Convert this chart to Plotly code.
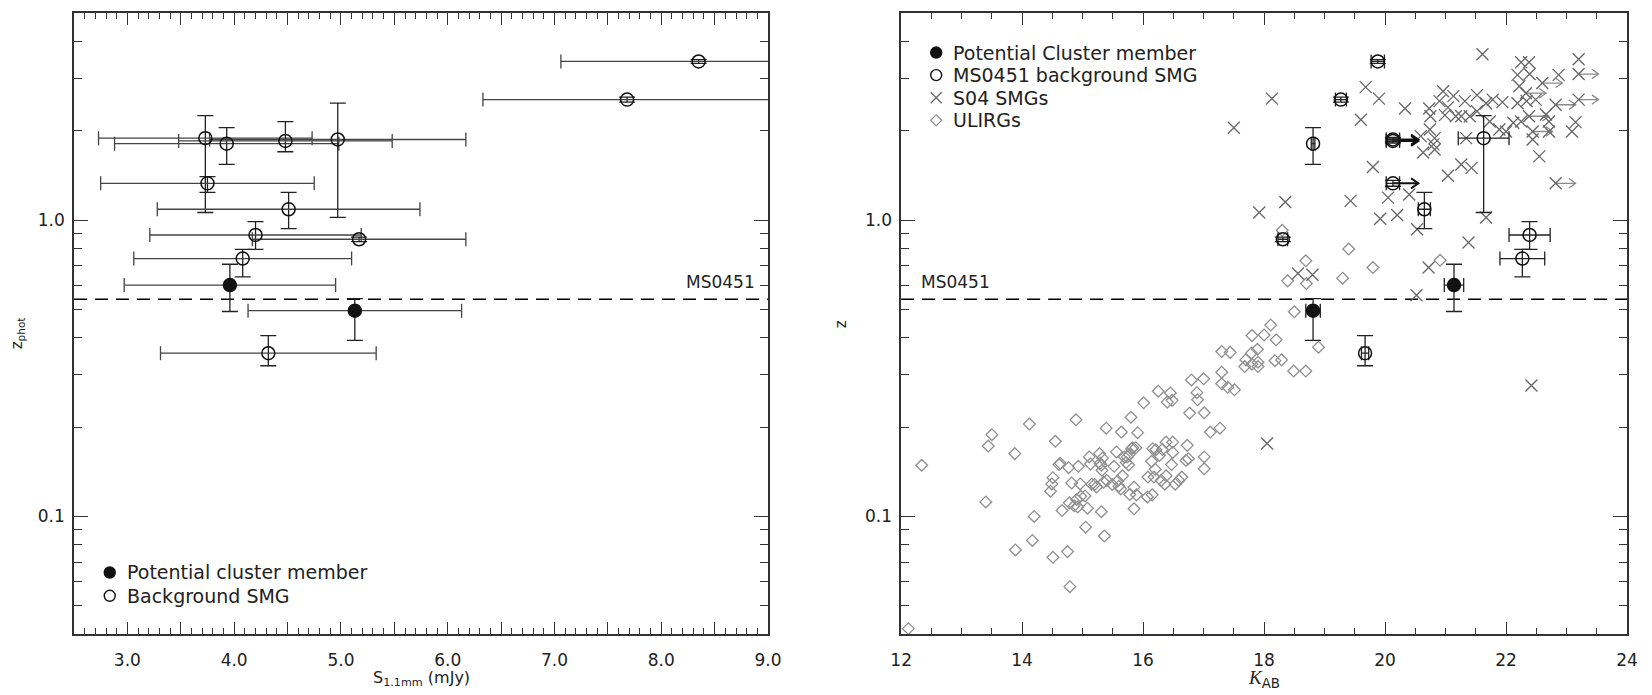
import numpy as np
import plotly.graph_objects as go

# ---------------- Left panel: MS0451 SMGs, S_1.1mm vs z_phot ----------------
S_mm      = [3.73, 3.93, 4.48, 4.97, 3.75, 4.51, 4.20, 5.17, 4.08, 3.96, 5.13, 4.32, 8.35, 7.68]
S_err     = [1.00, 1.05, 1.00, 1.20, 1.00, 1.23, 0.99, 1.00, 1.02, 0.99, 1.00, 1.01, 1.29, 1.35]
z_phot    = [1.89, 1.81, 1.85, 1.87, 1.33, 1.087, 0.89, 0.861, 0.741, 0.603, 0.494, 0.355, 3.43, 2.55]
z_up      = [2.25, 2.05, 2.15, 2.48, 1.40, 1.24, 0.987, 0.875, 0.796, 0.709, 0.543, 0.407, 3.48, 2.60]
z_lo      = [1.06, 1.54, 1.70, 1.02, 1.24, 0.935, 0.796, 0.845, 0.643, 0.491, 0.392, 0.322, 3.38, 2.50]
member    = [0, 0, 0, 0, 0, 0, 0, 0, 0, 1, 1, 0, 0, 0]

# ---------------- Right panel: same sources vs K_AB ----------------
K_ms      = [21.63, 18.81, 20.13, 20.13, 20.13, 20.65, 22.39, 18.31, 22.27, 21.14, 18.81, 19.67, 19.88, 19.27]
K_ms_err  = [0.42, 0.03, 0.11, 0.11, 0.11, 0.10, 0.34, 0.08, 0.37, 0.16, 0.12, 0.06, 0.11, 0.09]
K_ms_lim  = [0, 0, 1, 1, 1, 0, 0, 0, 0, 0, 0, 0, 0, 0]
z_ms_up   = [2.25, 2.05, 1.88, 1.90, 1.36, 1.24, 0.987, 0.875, 0.796, 0.709, 0.543, 0.407, 3.48, 2.60]
z_ms_lo   = [1.06, 1.54, 1.82, 1.84, 1.30, 0.935, 0.796, 0.845, 0.643, 0.491, 0.392, 0.322, 3.38, 2.50]

# S04 SMGs (K_AB, z, lower-limit flag on K)
smg_K = [17.50, 18.13, 18.35, 17.92, 18.56, 18.80, 19.68, 19.90, 19.60, 19.80, 19.43, 19.92, 20.05, 20.20,
         20.33, 20.40, 20.53, 20.52, 20.72, 21.38, 21.67, 22.82, 22.42, 18.05,
         21.61, 22.25, 22.38, 23.20, 22.19, 22.39, 22.87, 23.20, 22.22, 22.60, 22.33, 22.82, 23.20,
         20.96, 21.13, 20.90, 21.32, 21.52, 21.67, 21.78, 21.94, 22.19, 22.34, 22.49,
         20.73, 20.75, 20.99, 21.17, 21.26, 21.40, 21.52, 21.04, 21.73, 21.89, 22.00, 22.12, 22.25,
         22.38, 22.66, 22.71, 22.44, 22.44, 22.71, 23.09, 23.15, 22.55,
         20.74, 20.59, 20.82, 20.80, 20.63, 20.82, 21.34, 21.26, 21.43, 21.04]
smg_z = [2.05, 2.57, 1.15, 1.06, 0.66, 0.653, 2.81, 2.57, 2.18, 1.51, 1.16, 1.01, 1.19, 1.04,
         2.38, 1.22, 0.93, 0.557, 0.691, 0.839, 1.02, 1.33, 0.276, 0.176,
         3.63, 3.41, 3.41, 3.49, 3.09, 3.11, 3.09, 3.11, 2.83, 2.90, 2.68, 2.45, 2.55,
         2.72, 2.62, 2.52, 2.52, 2.64, 2.48, 2.55, 2.50, 2.48, 2.52, 2.55,
         2.38, 2.24, 2.26, 2.24, 2.24, 2.24, 2.33, 2.40, 2.15, 2.02, 1.99, 2.13, 2.15,
         2.24, 2.27, 2.15, 1.99, 1.87, 1.99, 1.99, 2.14, 1.64,
         2.02, 1.92, 1.89, 1.80, 1.69, 1.73, 1.89, 1.54, 1.50, 1.41]
smg_lim = [0, 0, 0, 0, 0, 0, 0, 0, 0, 0, 0, 0, 0, 0,
           0, 0, 0, 0, 0, 0, 0, 1, 0, 0,
           0, 0, 0, 0, 0, 0, 0, 1, 0, 1, 1, 1, 1,
           0, 0, 0, 0, 0, 0, 0, 0, 0, 0, 0,
           0, 0, 0, 0, 0, 0, 0, 0, 0, 0, 0, 0, 0,
           1, 0, 0, 1, 0, 0, 0, 0, 0,
           0, 0, 0, 0, 0, 0, 0, 0, 0, 0]

# ULIRGs (K_AB, z)
ulirg_K = [12.12, 12.34, 13.40, 13.44, 13.50, 13.88, 13.89, 14.12, 14.17, 14.20, 14.51, 14.47, 14.49, 14.51,
           14.55, 14.61, 14.63, 14.66, 14.75, 14.79, 14.78, 14.77, 14.82, 14.86, 14.89, 14.90, 14.92, 14.93,
           14.96, 14.97, 15.04, 15.05, 15.08, 15.11, 15.13, 15.15, 15.20, 15.23, 15.28, 15.29, 15.31, 15.31,
           15.32, 15.33, 15.35, 15.36, 15.39, 15.40, 15.49, 15.52, 15.56, 15.58, 15.60, 15.63, 15.64, 15.66,
           15.69, 15.72, 15.74, 15.76, 15.77, 15.78, 15.80, 15.81, 15.83, 15.85, 15.85, 15.88, 15.89, 15.91,
           16.01, 16.07, 16.08, 16.14, 16.15, 16.16, 16.18, 16.20, 16.21, 16.25, 16.27, 16.30, 16.32, 16.36,
           16.38, 16.38, 16.40, 16.45, 16.47, 16.48, 16.49, 16.49, 16.53, 16.59, 16.64, 16.71, 16.73, 16.75,
           16.77, 16.80, 16.89, 16.90, 17.00, 17.01, 17.01, 17.01, 17.11, 17.27, 17.30, 17.30, 17.30, 17.40,
           17.44,
           17.80, 18.00, 18.20, 17.89, 17.79, 17.70, 17.68, 17.80, 17.90, 17.90, 18.18, 18.29, 18.49, 18.69,
           17.51, 18.90,
           18.30, 18.69, 18.39, 18.70, 18.50, 18.11, 19.30, 19.40, 19.80, 20.91]
ulirg_z = [0.0417, 0.1485, 0.1117, 0.1725, 0.1884, 0.1626, 0.0769, 0.2046, 0.0828, 0.0998, 0.0726, 0.1214,
           0.1285, 0.1349, 0.179, 0.1493, 0.1508, 0.1045, 0.0759, 0.0578, 0.1109, 0.1458, 0.1294, 0.1084,
           0.2115, 0.1138, 0.1074, 0.1473, 0.1285, 0.1167, 0.117, 0.0918, 0.1064, 0.1585, 0.150, 0.1282,
           0.128, 0.1254, 0.1626, 0.1508, 0.1485, 0.1035, 0.1429, 0.157, 0.1303, 0.0857, 0.1982, 0.132,
           0.128, 0.1473, 0.1648, 0.1315, 0.1262, 0.1236, 0.1923, 0.1368, 0.1585, 0.1517, 0.1585, 0.149,
           0.1614, 0.1183, 0.2158, 0.169, 0.1702, 0.1059, 0.1253, 0.1702, 0.118, 0.1914, 0.2415, 0.1161,
           0.1355, 0.1531, 0.118, 0.169, 0.1355, 0.144, 0.1676, 0.2642, 0.1603, 0.132, 0.1679, 0.1282,
           0.1778, 0.1368, 0.2427, 0.2606, 0.1493, 0.246, 0.1778, 0.1641, 0.1282, 0.132, 0.1355, 0.1542,
           0.1734, 0.1563, 0.2228, 0.2884, 0.2612, 0.2472, 0.291, 0.1585, 0.1445, 0.2234, 0.1923, 0.1982,
           0.3597, 0.3062, 0.2799, 0.2723, 0.3573,
           0.407, 0.409, 0.394, 0.366, 0.355, 0.337, 0.320, 0.326, 0.331, 0.320, 0.335, 0.337, 0.309, 0.309,
           0.267, 0.372,
           0.923, 0.728, 0.623, 0.610, 0.490, 0.442, 0.636, 0.798, 0.691, 0.731]

z_cluster = 0.54
x1_range = [2.5, 9.0]
x2_range = [12, 24]
y_range = [0.04, 5.0]

FONT = "DejaVu Sans"
AX = "#333333"
BLK = "#111111"
DGRAY = "#666666"
LGRAY = "#8f8f8f"
TXT = "#222222"

fig = go.Figure()

# ----- left panel traces -----
S = np.array(S_mm); Se = np.array(S_err); z = np.array(z_phot)
zu = np.array(z_up); zl = np.array(z_lo); mem = np.array(member, bool)

fig.add_trace(go.Scatter(x=x1_range, y=[z_cluster, z_cluster], mode="lines",
                         line=dict(color="#000000", width=1.4, dash="13px,8px"),
                         xaxis="x", yaxis="y", showlegend=False, hoverinfo="skip"))

for sel, filled in [(~mem, False), (mem, True)]:
    fig.add_trace(go.Scatter(
        x=S[sel], y=z[sel], mode="markers", xaxis="x", yaxis="y", showlegend=False,
        marker=dict(symbol="circle" if filled else "circle-open", size=13,
                    color=BLK, line=dict(color=BLK, width=1.5)),
        error_x=dict(type="data", array=Se[sel], color="#444444", thickness=1.3, width=7),
        error_y=dict(type="data", symmetric=False, array=(zu - z)[sel], arrayminus=(z - zl)[sel],
                     color="#222222", thickness=1.3, width=8),
    ))

# ----- right panel traces -----
fig.add_trace(go.Scatter(x=x2_range, y=[z_cluster, z_cluster], mode="lines",
                         line=dict(color="#000000", width=1.4, dash="13px,8px"),
                         xaxis="x2", yaxis="y2", showlegend=False, hoverinfo="skip"))

fig.add_trace(go.Scatter(x=ulirg_K, y=ulirg_z, mode="markers", xaxis="x2", yaxis="y2", showlegend=False,
                         marker=dict(symbol="diamond-open", size=9, color=LGRAY, line=dict(width=1.3))))

sK = np.array(smg_K); sz = np.array(smg_z); sl = np.array(smg_lim, bool)

def arrows(K, zz, length, head_dx, head_dlog):
    xs, ys = [], []
    for k, v in zip(K, zz):
        tip = k + length
        xs += [k, tip, None, tip - head_dx, tip, tip - head_dx, None]
        ys += [v, v, None, v * 10 ** head_dlog, v, v * 10 ** (-head_dlog), None]
    return xs, ys

ax_, ay_ = arrows(sK[sl], sz[sl], 0.33, 0.11, 0.016)
fig.add_trace(go.Scatter(x=ax_, y=ay_, mode="lines", line=dict(color="#8a8a8a", width=1.3),
                         xaxis="x2", yaxis="y2", showlegend=False, hoverinfo="skip"))
fig.add_trace(go.Scatter(x=smg_K, y=smg_z, mode="markers", xaxis="x2", yaxis="y2", showlegend=False,
                         marker=dict(symbol="x-thin-open", size=12, color=DGRAY, line=dict(width=1.3, color=DGRAY))))

Km = np.array(K_ms); Kme = np.array(K_ms_err); Kl = np.array(K_ms_lim, bool)
zmu = np.array(z_ms_up); zml = np.array(z_ms_lo)
bx, by = arrows(Km[Kl], z[Kl], 0.42, 0.12, 0.017)
fig.add_trace(go.Scatter(x=bx, y=by, mode="lines", line=dict(color=BLK, width=2.0),
                         xaxis="x2", yaxis="y2", showlegend=False, hoverinfo="skip"))
for sel, filled in [(~mem, False), (mem, True)]:
    fig.add_trace(go.Scatter(
        x=Km[sel], y=z[sel], mode="markers", xaxis="x2", yaxis="y2", showlegend=False,
        marker=dict(symbol="circle" if filled else "circle-open", size=13,
                    color=BLK, line=dict(color=BLK, width=1.5)),
        error_x=dict(type="data", array=Kme[sel], color="#222222", thickness=1.3, width=7),
        error_y=dict(type="data", symmetric=False, array=(zmu - z)[sel], arrayminus=(z - zml)[sel],
                     color="#222222", thickness=1.3, width=8),
    ))

# ----- axes -----
def lin_ticks(lo, hi, step):
    n = int(round((hi - lo) / step))
    return [round(lo + i * step, 6) for i in range(n + 1)]

y_major = [0.1, 1.0]
y_minor = [0.04, 0.05, 0.06, 0.07, 0.08, 0.09, 0.2, 0.3, 0.4, 0.5, 0.6, 0.7, 0.8, 0.9, 2, 3, 4, 5]

x1_major = lin_ticks(3.0, 9.0, 1.0)
x1_half = lin_ticks(2.5, 8.5, 1.0)
x1_minor = lin_ticks(2.5, 9.0, 0.1)
x2_major = lin_ticks(12, 24, 2)
x2_minor = lin_ticks(12, 24, 0.5)

tickfont = dict(family=FONT, size=17, color=TXT)
common = dict(showline=True, linecolor=AX, linewidth=1.5, mirror="ticks", ticks="inside",
              tickcolor=AX, tickwidth=1.3, showgrid=False, zeroline=False, tickfont=tickfont)

fig.update_layout(
    width=1652, height=695,
    margin=dict(l=74, r=14, t=11, b=61),
    paper_bgcolor="white", plot_bgcolor="white",
    xaxis=dict(domain=[0, 0.4469], range=x1_range, tickmode="array", tickvals=x1_major,
               ticktext=[f"{v:.1f}" for v in x1_major],
               ticklen=12, ticklabelstandoff=10,
               minor=dict(tickmode="array", tickvals=x1_minor, ticklen=6, tickcolor=AX, ticks="inside"),
               anchor="y", **common),
    # overlay axis carrying the long half-unit ticks of the left panel
    xaxis3=dict(domain=[0, 0.4469], range=x1_range, overlaying="x", anchor="y", side="bottom",
                tickmode="array", tickvals=x1_half, showticklabels=False, ticks="inside", ticklen=12,
                tickcolor=AX, tickwidth=1.3, mirror="ticks", showline=False, showgrid=False, zeroline=False),
    yaxis=dict(type="log", range=[np.log10(y_range[0]), np.log10(y_range[1])], tickmode="array",
               tickvals=y_major, ticktext=["0.1", "1.0"], ticklen=14, ticklabelstandoff=4,
               minor=dict(tickmode="array", tickvals=y_minor, ticklen=8, tickcolor=AX, ticks="inside"),
               anchor="x", **common),
    xaxis2=dict(domain=[0.5326, 1], range=x2_range, tickmode="array", tickvals=x2_major,
                ticktext=[str(v) for v in x2_major], ticklen=12, ticklabelstandoff=10,
                minor=dict(tickmode="array", tickvals=x2_minor, ticklen=6, tickcolor=AX, ticks="inside"),
                anchor="y2", **common),
    yaxis2=dict(type="log", range=[np.log10(y_range[0]), np.log10(y_range[1])], tickmode="array",
                tickvals=y_major, ticktext=["0.1", "1.0"], ticklen=14, ticklabelstandoff=4,
                minor=dict(tickmode="array", tickvals=y_minor, ticklen=8, tickcolor=AX, ticks="inside"),
                anchor="x2", **common),
    showlegend=False,
)

# invisible trace so the overlay axis is drawn
fig.add_trace(go.Scatter(x=[x1_range[0]], y=[y_range[0]], mode="markers", marker=dict(opacity=0),
                         xaxis="x3", yaxis="y", showlegend=False, hoverinfo="skip"))

# ----- text annotations -----
def ann(x, y, text, size=17, xanchor="left", yanchor="middle", angle=0, family=FONT):
    fig.add_annotation(x=x, y=y, xref="paper", yref="paper", text=text, showarrow=False,
                       xanchor=xanchor, yanchor=yanchor, textangle=angle,
                       font=dict(family=family, size=size, color=TXT))

ann(0.4399, 0.5666, "MS0451", xanchor="right")
ann(0.5441, 0.5666, "MS0451", xanchor="left")
ann(0.2235, -0.072, "S<sub>1.1mm</sub> (mJy)", size=16, xanchor="center")
ann(0.7663, -0.072,
    "<span style='font-family:Liberation Serif'><i>K</i></span><sub>AB</sub>", size=19, xanchor="center")
ann(-0.0364, 0.485, "z<sub>phot</sub>", size=15, xanchor="center", angle=-90)
ann(0.494, 0.499, "z", size=15, xanchor="center", angle=-90)

# legends (symbols as pixel-sized shapes + text)
def sym(kind, px, py, color=BLK, r=5.5):
    x = (px - 74) / 1564
    y = (634 - py) / 623
    base = dict(xref="paper", yref="paper", xsizemode="pixel", ysizemode="pixel", xanchor=x, yanchor=y)
    if kind in ("filled", "open"):
        fig.add_shape(type="circle", x0=-r, x1=r, y0=-r, y1=r,
                      fillcolor=color if kind == "filled" else "rgba(0,0,0,0)",
                      line=dict(color=color, width=1.4), **base)
    elif kind == "x":
        fig.add_shape(type="path", path=f"M{-r},{-r} L{r},{r} M{-r},{r} L{r},{-r}",
                      line=dict(color=color, width=1.3), **base)
    elif kind == "d":
        fig.add_shape(type="path", path=f"M0,{-r} L{r},0 L0,{r} L{-r},0 Z",
                      line=dict(color=color, width=1.3), **base)

LEG = 19
sym("filled", 110, 572.3)
sym("open", 110, 595.7)
ann((125 - 74) / 1564, (634 - 572.3) / 623, "Potential cluster member", size=LEG)
ann((125 - 74) / 1564, (634 - 595.7) / 623, "Background SMG", size=LEG)

rows = [50.7, 73.3, 96.0, 118.7]
sym("filled", 942.3, rows[0])
sym("open", 942.3, rows[1])
sym("x", 942.3, rows[2], color=DGRAY)
sym("d", 942.3, rows[3], color=LGRAY)
labels = ["Potential Cluster member", "MS0451 background SMG", "S04 SMGs", "ULIRGs"]
for r_, t in zip(rows, labels):
    ann((957 - 74) / 1564, (634 - r_) / 623, t, size=LEG)

fig.write_html("out.html")
